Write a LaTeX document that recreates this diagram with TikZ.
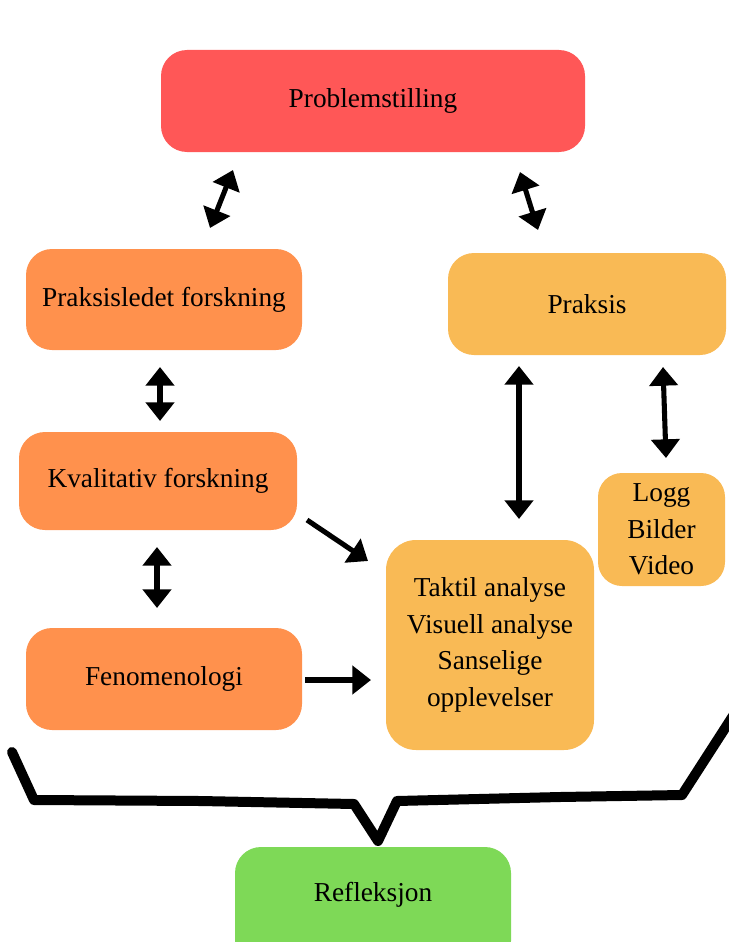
\documentclass[tikz,border=0pt]{standalone}
\usepackage{fontspec}
\setmainfont{Liberation Serif}
\usetikzlibrary{arrows.meta}
\definecolor{cred}{HTML}{FF5757}
\definecolor{corange}{HTML}{FF914D}
\definecolor{cyellow}{HTML}{F9BA55}
\definecolor{cgreen}{HTML}{7ED957}
\tikzset{
  box/.style={rectangle, rounded corners=26pt*0.75, inner sep=0pt, align=center,
    font=\fontsize{20.5}{27.4}\selectfont, text=black},
  dbl/.style={line width=3.8pt, {Triangle[length=14pt,width=21pt]}-{Triangle[length=14pt,width=21pt]}},
  sgl/.style={line width=3.8pt, -{Triangle[length=14pt,width=21pt]}},
}
\begin{document}
\begin{tikzpicture}[x=0.75pt,y=-0.75pt]
\useasboundingbox (0,0) rectangle (728,942);
\begin{scope}
\clip (0,0) rectangle (728,942);
\node[box, fill=cred, minimum width=424*0.75pt, minimum height=102*0.75pt] (prob) at (373,101) {Problemstilling};
\node[box, fill=corange, minimum width=276*0.75pt, minimum height=101*0.75pt] (pf) at (164,299.5) {Praksisledet forskning};
\node[box, fill=cyellow, minimum width=278*0.75pt, minimum height=102*0.75pt] (praksis) at (587,304) {Praksis};
\node[box, fill=corange, minimum width=278*0.75pt, minimum height=98*0.75pt] (kf) at (158,481) {Kvalitativ forskning};
\node[box, fill=corange, minimum width=276*0.75pt, minimum height=102*0.75pt] (fen) at (164,679) {Fenomenologi};
\node[box, fill=cyellow, rounded corners=30*0.75pt, minimum width=208*0.75pt, minimum height=210*0.75pt] (tak) at (490,645) {Taktil analyse\\Visuell analyse\\Sanselige\\opplevelser};
\node[box, fill=cyellow, rounded corners=24*0.75pt, minimum width=127*0.75pt, minimum height=113*0.75pt] (logg) at (661.5,529.5) {Logg\\Bilder\\Video};
\node[box, fill=cgreen, minimum width=276*0.75pt, minimum height=120*0.75pt,
  label={[font=\fontsize{20.5}{27.4}\selectfont, yshift=9pt]center:Refleksjon}] (refl) at (373,907) {};
\end{scope}
% arrow end points
\coordinate (a1a) at (210,228); \coordinate (a1b) at (233,170);
\coordinate (a2a) at (520,172); \coordinate (a2b) at (538,230);
\coordinate (a3a) at (160,367); \coordinate (a3b) at (160,421);
\coordinate (a4a) at (157,547); \coordinate (a4b) at (157,608);
\coordinate (a5a) at (519,366); \coordinate (a5b) at (519,519);
\coordinate (a6a) at (663,367); \coordinate (a6b) at (666,458);
\coordinate (a7a) at (307,520); \coordinate (a7b) at (368,561);
\coordinate (a8a) at (305,680); \coordinate (a8b) at (371,680);
\draw[dbl] (a1a) -- (a1b);
\draw[dbl] (a2a) -- (a2b);
\draw[dbl] (a3a) -- (a3b);
\draw[dbl] (a4a) -- (a4b);
\draw[dbl] (a5a) -- (a5b);
\draw[dbl] (a6a) -- (a6b);
\draw[sgl] (a7a) -- (a7b);
\draw[sgl] (a8a) -- (a8b);
% hand-drawn brace
\draw[line width=7.5pt, line join=round, line cap=round]
  (12,752) -- (34,800) -- (200,801) -- (354,804) -- (378,841) -- (397,801)
  -- (560,797) -- (682,795) -- (740,705);
\end{tikzpicture}
\end{document}
